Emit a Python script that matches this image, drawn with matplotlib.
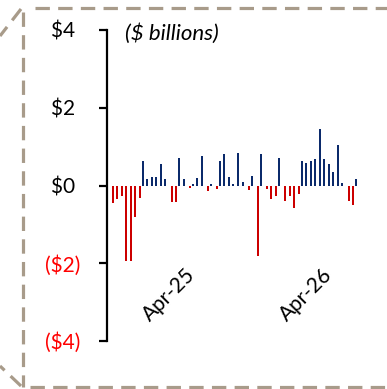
import numpy as np
import matplotlib
matplotlib.use("Agg")
import matplotlib.pyplot as plt
from matplotlib.lines import Line2D

plt.rcParams['font.family'] = ['Lato', 'DejaVu Sans']

# Net flows per period ($ billions); inflows positive, outflows negative
inflows = [0, 0, 0, 0, 0, 0, 0,
           0.64, 0.17, 0.23, 0.23, 0.56, 0.17, 0, 0, 0.71, 0.17, 0, 0.05,
           0.20, 0.76, 0, 0.05, 0, 0.62, 0.81, 0.22, 0.03, 0.83, 0.08, 0,
           0.25, 0, 0.81, 0, 0, 0, 0.70, 0, 0, 0, 0,
           0.63, 0.57, 0.63, 0.67, 1.46, 0.69, 0.56, 0.36, 1.03, 0.06, 0, 0, 0.18]
outflows = [-0.45, -0.36, -0.26, -1.93, -1.93, -0.81, -0.33,
            0, 0, 0, 0, 0, 0, -0.43, -0.43, 0, 0, -0.07, 0,
            0, 0, -0.15, 0, -0.09, 0, 0, 0, 0, 0, 0, -0.12,
            0, -1.81, 0, -0.09, -0.36, -0.26, 0, -0.41, -0.27, -0.57, -0.23,
            0, 0, 0, 0, 0, 0, 0, 0, 0, 0, -0.41, -0.50, 0]

month_ticks = [16.1, 46.4]
month_labels = ["Apr-25", "Apr-26"]

y_ticks = [4, 2, 0, -2, -4]
y_labels = ["$4 ", "$2 ", "$0 ", "($2)", "($4)"]

BLUE = "#0b2a6b"
RED = "#cc0000"
NEG_RED = "#ff0000"
FRAME = "#a89b8a"

W, H = 387, 389
fig = plt.figure(figsize=(W / 100, H / 100), dpi=100)
ax = fig.add_axes([107 / W, 1 - 341 / H, 258 / W, 311 / H])

x = np.arange(len(inflows))
ax.bar(x - 0.18, inflows, width=0.44, color=BLUE, linewidth=0)
ax.bar(x + 0.18, outflows, width=0.44, color=RED, linewidth=0)

ax.set_ylim(-4, 4)
ax.set_xlim(-1.05, 55.8)

for s in ("top", "right"):
    ax.spines[s].set_visible(False)
ax.spines["left"].set_linewidth(1.6)
ax.spines["left"].set_color("black")

ax.set_yticks(y_ticks)
ax.set_yticklabels(y_labels)
ax.tick_params(axis="y", length=6, width=1.6, pad=13, labelsize=15)
for lab, v in zip(ax.get_yticklabels(), y_ticks):
    lab.set_color(NEG_RED if v < 0 else "black")

# category labels sit just below the deepest outflows
ax.spines["bottom"].set_position(("data", -2.0))
ax.spines["bottom"].set_visible(False)
ax.set_xticks(month_ticks)
ax.set_xticklabels(month_labels, rotation=45, ha="right",
                   rotation_mode="anchor", fontsize=15)
ax.tick_params(axis="x", length=0, pad=1)

ax.text(0.07, 0.99, "($ billions)", transform=ax.transAxes, style="italic",
        fontsize=16, ha="left", va="center")

# dashed callout frame
def fline(xs, ys):
    fig.add_artist(Line2D([v / W for v in xs], [1 - v / H for v in ys],
                          transform=fig.transFigure, color=FRAME, lw=2.3,
                          linestyle=(0, (4.5, 2.6)), solid_capstyle="butt",
                          dash_capstyle="butt"))

fline([23, 23], [12, 387])
fline([35, 392], [8, 8])
fline([30, 392], [387, 387])
fline([21, 0], [9, 36])
fline([21, 0], [386, 366])

fig.savefig("out.png", dpi=100)
